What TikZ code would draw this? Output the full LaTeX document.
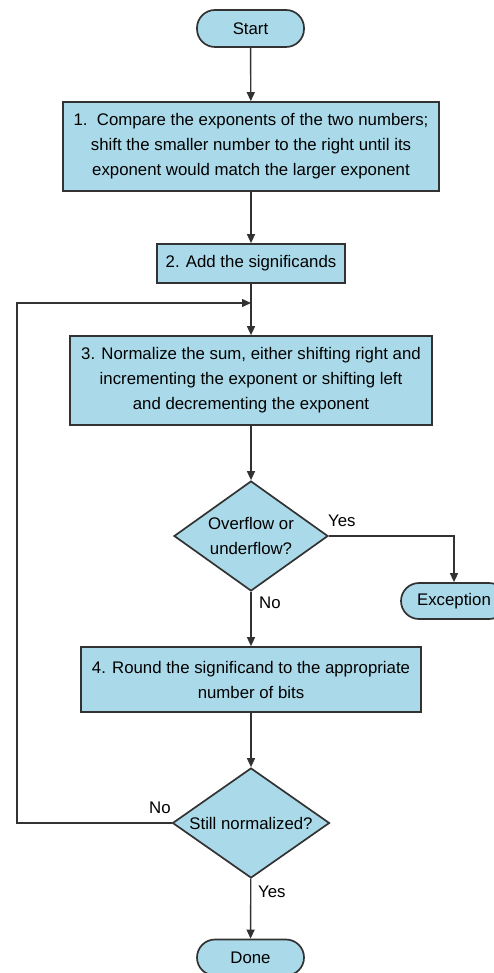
\documentclass[tikz,border=0pt]{standalone}
\usepackage{fontspec}
\setmainfont{Liberation Sans}
\usepackage{tikz}
\usetikzlibrary{arrows.meta}
\usetikzlibrary{shapes}

\definecolor{boxblue}{RGB}{170,218,233}
\definecolor{edgegray}{RGB}{50,50,50}

\begin{document}
\begin{tikzpicture}[x=1pt, y=-1pt,
		font=\fontsize{16.8}{25}\selectfont,
		base/.style={draw=edgegray, line width=1.7pt, fill=boxblue, inner sep=0pt, align=center},
		term/.style={base, rectangle, rounded corners=18pt, minimum width=107pt, minimum height=37pt},
		proc/.style={base, rectangle, minimum height=#1},
		test/.style={base, diamond, aspect=1.4},
		flow/.style={draw=edgegray, line width=1.4pt, -{Triangle[length=9pt, width=8pt]}},
		lbl/.style={inner sep=0pt, anchor=west}]
		\clip (0,0) rectangle (494,973);

		\node[term] (st) at (250.5,28.5) {Start};
		\node[proc=89pt, minimum width=376pt] (c1) at (251,146.5) {1.\ \ Compare the exponents of the two numbers;\\shift the smaller number to the right until its\\exponent would match the larger exponent};
		\node[proc=39pt, minimum width=188pt] (c2) at (251,263.5) {2. Add the significands};
		\node[proc=89pt, minimum width=362pt] (c3) at (251,380.5) {3. Normalize the sum, either shifting right and\\incrementing the exponent or shifting left\\and decrementing the exponent};
		\node[test, minimum width=154pt, minimum height=110pt] (d1) at (251,536) {Overflow or\\underflow?};
		\node[term, minimum width=106pt, minimum height=36pt] (ex) at (454,601) {Exception};
		\node[proc=65pt, minimum width=340pt] (c4) at (251,679.5) {4. Round the significand to the appropriate\\number of bits};
		\node[test, minimum width=157pt, minimum height=110pt] (d2) at (251,823) {Still normalized?};
		\node[term, minimum height=36pt] (dn) at (250.5,957.5) {Done};

		\coordinate (j) at (251,303); % where the loop comes back in
		\coordinate (lc) at (17,303);

		\draw[flow] (st) -- (c1);
		\draw[flow] (c1) -- (c2);
		\draw[flow] (c2) -- (c3);
		\draw[flow] (c3) -- (d1);
		\draw[flow] (d1.east) -| (ex);
		\draw[flow] (d1) -- (c4);
		\draw[flow] (c4) -- (d2);
		\draw[flow] (d2) -- (dn);
		\draw[flow] (d2.west) -| (lc) -- (j);

		\node[lbl] (y1) at (328,521) {Yes};
		\node[lbl] (n1) at (259,603) {No};
		\node[lbl] (n2) at (149,808) {No};
		\node[lbl] (y2) at (258,892) {Yes};
	\end{tikzpicture}
\end{document}
